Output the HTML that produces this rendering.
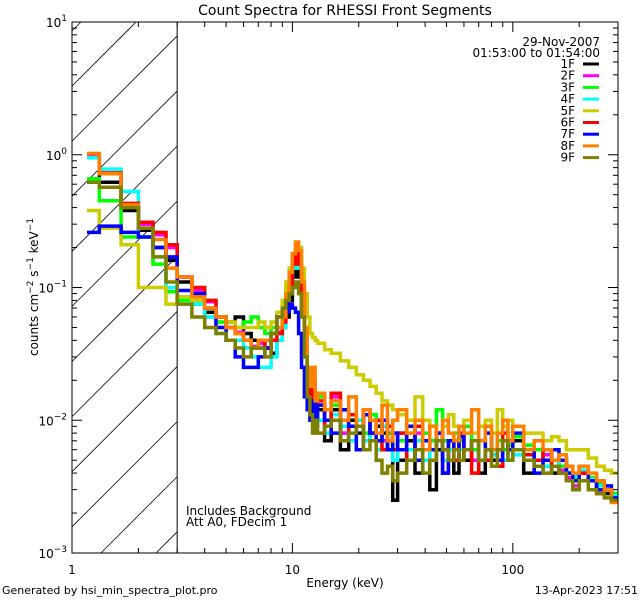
<!DOCTYPE html>
<html><head><meta charset="utf-8"><style>
html,body{margin:0;padding:0;background:#fff;width:640px;height:600px;overflow:hidden;}
svg{display:block;font-family:"DejaVu Sans","Liberation Sans",sans-serif;overflow:hidden;}
</style></head><body>
<svg id="chart" width="640" height="600" viewBox="0 0 640 600" xmlns="http://www.w3.org/2000/svg">
<defs><clipPath id="plotclip"><rect x="72" y="22" width="546" height="531"/></clipPath></defs>
<rect width="640" height="600" fill="#fff"/>
<text x="345" y="15" font-size="14" text-anchor="middle">Count Spectra for RHESSI Front Segments</text>
<g id="hatch"></g>
<g id="series" clip-path="url(#plotclip)"></g>
<g id="axes"></g>
<text transform="translate(38,287) rotate(-90)" font-size="12" text-anchor="middle">counts cm<tspan dy="-5" font-size="9">−2</tspan><tspan dy="5"> s</tspan><tspan dy="-5" font-size="9">−1</tspan><tspan dy="5"> keV</tspan><tspan dy="-5" font-size="9">−1</tspan></text>
<text x="345" y="587" font-size="12" text-anchor="middle">Energy (keV)</text>
<text x="600" y="46" font-size="12" text-anchor="end">29-Nov-2007</text>
<text x="600" y="57" font-size="12" text-anchor="end">01:53:00 to 01:54:00</text>
<text x="186" y="515" font-size="12">Includes Background</text>
<text x="186" y="526" font-size="12">Att A0, FDecim 1</text>
<text x="2" y="594" font-size="11">Generated by hsi_min_spectra_plot.pro</text>
<text x="638" y="594" font-size="11" text-anchor="end">13-Apr-2023 17:51</text>
<g id="legend"></g>
</svg>
<script>
const edges=[1.17,1.33,1.67,2,2.33,2.67,3,3.5,4,4.5,5,5.5,6,6.5,7,7.5,8,8.5,9,9.33,9.67,10,10.33,10.67,11,11.33,11.67,12,12.33,12.67,13,14,15,16.5,18,19.5,21,22.5,24,25.5,27,28.5,30,33,36,39,42,45,48,51,54,57,60,65,70,75,80,85,90,95,100,112,125,137,150,162,175,187,200,220,240,260,280,300];
const seriesNames=["1F","2F","3F","4F","5F","6F","7F","8F","9F"];
const s1F=[0.95,0.62,0.38,0.27,0.20,0.16,0.11,0.075,0.065,0.06,0.055,0.06,0.045,0.04,0.035,0.035,0.032,0.04,0.05,0.06,0.08,0.12,0.16,0.12,0.07,0.03,0.018,0.012,0.015,0.010,0.012,0.007,0.012,0.006,0.010,0.008,0.011,0.007,0.009,0.008,0.006,0.0025,0.005,0.007,0.004,0.006,0.003,0.006,0.005,0.007,0.004,0.006,0.005,0.007,0.004,0.006,0.005,0.0045,0.006,0.005,0.007,0.004,0.006,0.005,0.004,0.005,0.004,0.0035,0.004,0.0035,0.003,0.0028,0.0025];
const s2F=[1.0,0.72,0.42,0.30,0.25,0.20,0.12,0.095,0.078,0.06,0.05,0.046,0.04,0.036,0.038,0.035,0.04,0.046,0.055,0.07,0.10,0.15,0.18,0.15,0.09,0.035,0.02,0.013,0.018,0.012,0.013,0.009,0.015,0.008,0.011,0.009,0.011,0.008,0.010,0.007,0.008,0.006,0.008,0.006,0.008,0.007,0.006,0.008,0.005,0.007,0.005,0.007,0.006,0.005,0.007,0.005,0.006,0.005,0.007,0.006,0.006,0.0055,0.005,0.0055,0.0045,0.0042,0.0037,0.0032,0.004,0.0035,0.003,0.003,0.0026];
const s3F=[0.66,0.45,0.24,0.24,0.15,0.093,0.08,0.075,0.06,0.055,0.05,0.05,0.055,0.06,0.05,0.045,0.05,0.06,0.07,0.08,0.10,0.14,0.17,0.14,0.08,0.035,0.02,0.016,0.012,0.014,0.015,0.010,0.013,0.012,0.009,0.010,0.008,0.011,0.007,0.009,0.008,0.006,0.007,0.009,0.006,0.008,0.007,0.012,0.007,0.006,0.008,0.007,0.009,0.006,0.007,0.008,0.006,0.007,0.006,0.0065,0.0075,0.0065,0.006,0.005,0.005,0.0045,0.004,0.0037,0.0045,0.0037,0.0033,0.003,0.0028];
const s4F=[0.95,0.78,0.53,0.24,0.17,0.10,0.085,0.075,0.06,0.045,0.04,0.04,0.035,0.03,0.025,0.025,0.03,0.04,0.05,0.065,0.09,0.14,0.18,0.14,0.08,0.04,0.02,0.011,0.014,0.009,0.010,0.008,0.011,0.009,0.007,0.010,0.007,0.008,0.006,0.009,0.007,0.005,0.008,0.006,0.007,0.005,0.006,0.007,0.005,0.006,0.007,0.006,0.006,0.007,0.005,0.006,0.0055,0.006,0.005,0.006,0.0055,0.006,0.005,0.0045,0.005,0.004,0.0045,0.0038,0.0042,0.0036,0.0032,0.003,0.0027];
const s5F=[0.38,0.28,0.21,0.10,0.10,0.075,0.085,0.08,0.07,0.06,0.055,0.05,0.05,0.05,0.055,0.05,0.055,0.065,0.08,0.11,0.14,0.18,0.21,0.20,0.14,0.09,0.06,0.045,0.042,0.04,0.038,0.034,0.032,0.028,0.025,0.022,0.020,0.018,0.016,0.014,0.013,0.012,0.011,0.010,0.015,0.010,0.009,0.008,0.009,0.011,0.009,0.008,0.010,0.008,0.009,0.010,0.008,0.012,0.009,0.010,0.009,0.008,0.008,0.007,0.0075,0.007,0.006,0.006,0.006,0.0052,0.0045,0.0042,0.004];
const s6F=[1.02,0.73,0.43,0.31,0.26,0.21,0.12,0.10,0.08,0.06,0.05,0.045,0.04,0.035,0.04,0.035,0.04,0.045,0.055,0.07,0.10,0.15,0.18,0.15,0.09,0.035,0.02,0.013,0.02,0.012,0.014,0.009,0.016,0.007,0.011,0.009,0.012,0.008,0.010,0.006,0.009,0.006,0.008,0.005,0.009,0.007,0.006,0.008,0.004,0.007,0.005,0.008,0.006,0.004,0.007,0.005,0.006,0.0045,0.008,0.006,0.006,0.0055,0.005,0.006,0.0045,0.004,0.0035,0.003,0.004,0.0035,0.0028,0.003,0.0025];
const s7F=[0.26,0.29,0.26,0.24,0.20,0.17,0.095,0.09,0.07,0.05,0.04,0.03,0.025,0.025,0.03,0.035,0.045,0.06,0.065,0.065,0.075,0.07,0.065,0.045,0.025,0.015,0.012,0.010,0.014,0.009,0.013,0.010,0.008,0.012,0.009,0.006,0.011,0.008,0.007,0.010,0.006,0.008,0.006,0.009,0.005,0.007,0.006,0.008,0.004,0.007,0.006,0.0075,0.006,0.007,0.005,0.008,0.006,0.005,0.007,0.006,0.008,0.006,0.004,0.005,0.006,0.005,0.004,0.0035,0.0045,0.0035,0.003,0.0032,0.0026];
const s8F=[1.02,0.72,0.42,0.28,0.23,0.14,0.12,0.085,0.07,0.06,0.05,0.045,0.04,0.035,0.04,0.04,0.045,0.05,0.06,0.09,0.13,0.18,0.22,0.19,0.11,0.05,0.025,0.018,0.025,0.014,0.016,0.012,0.014,0.010,0.015,0.009,0.012,0.010,0.008,0.013,0.007,0.010,0.012,0.008,0.010,0.006,0.009,0.007,0.010,0.008,0.007,0.009,0.008,0.012,0.007,0.009,0.006,0.008,0.010,0.007,0.009,0.006,0.007,0.006,0.005,0.0055,0.0045,0.004,0.0045,0.004,0.0035,0.003,0.0024];
const s9F=[0.62,0.57,0.40,0.28,0.17,0.11,0.075,0.06,0.05,0.045,0.04,0.035,0.03,0.035,0.035,0.03,0.045,0.06,0.07,0.08,0.09,0.10,0.11,0.09,0.06,0.03,0.015,0.011,0.008,0.010,0.008,0.009,0.010,0.007,0.008,0.009,0.006,0.007,0.005,0.004,0.0045,0.0035,0.004,0.005,0.006,0.004,0.005,0.007,0.006,0.005,0.006,0.005,0.006,0.007,0.005,0.006,0.0045,0.006,0.007,0.005,0.006,0.005,0.0045,0.004,0.0045,0.004,0.0035,0.003,0.0035,0.003,0.0028,0.0026,0.0025];
const xTickLabels=["1","10","100"];
const yTickExps=[1,0,-1,-2,-3];

const NS="http://www.w3.org/2000/svg";
const X0=72,X1=618,Y0=22,Y1=553;
const xmin=0,xmax=Math.log10(300),ymin=-3,ymax=1;
function xs(e){return X0+(Math.log10(e)-xmin)/(xmax-xmin)*(X1-X0);}
function ys(v){return Y1-(Math.log10(v)-ymin)/(ymax-ymin)*(Y1-Y0);}
function mk(tag,attrs,parent){const el=document.createElementNS(NS,tag);for(const k in attrs)el.setAttribute(k,attrs[k]);parent.appendChild(el);return el;}

const hatch=document.getElementById('hatch');
const hx1=xs(3);
for(let c=86-55.1;c<Y1+(hx1-X0);c+=55.1){
  // line: y = c - (x - X0), clipped to [X0,hx1] x [Y0,Y1]
  const xa=Math.max(X0, X0+c-Y1), xb=Math.min(hx1, X0+c-Y0);
  if(xb<=xa)continue;
  const l=mk('line',{x1:xa,y1:c-(xa-X0),x2:xb,y2:c-(xb-X0),stroke:'#000','stroke-width':0.8},hatch);
  
  
}
const hb=mk('line',{x1:hx1,y1:Y0,x2:hx1,y2:Y1,stroke:'#000','stroke-width':1},hatch);



const colors=["#000000","#ff00ff","#00ff00","#00ffff","#cccc00","#ff0000","#0000ff","#ff8000","#808000"];
const allSeries=[s1F,s2F,s3F,s4F,s5F,s6F,s7F,s8F,s9F];
const sg=document.getElementById('series');
allSeries.forEach((vals,si)=>{
  let d="";
  vals.forEach((v,i)=>{
    const xa=xs(edges[i]).toFixed(1),xb=xs(edges[i+1]).toFixed(1),y=ys(v).toFixed(1);
    d+=(i===0?"M":"L")+xa+","+y+"L"+xb+","+y;
  });
  const p=mk('path',{d:d,fill:'none',stroke:colors[si],'stroke-width':3.5,'stroke-linejoin':'miter'},sg);
  
  
});

const ax=document.getElementById('axes');
const frame=mk('rect',{x:X0,y:Y0,width:X1-X0,height:Y1-Y0,fill:'none',stroke:'#000','stroke-width':1},ax);


for(let dec=1;dec<=100;dec*=10){
  for(let m=1;m<=9;m++){
    const e=dec*m; if(e>300)break;
    const x=xs(e),len=(m===1)?10:5;
    const t1=mk('line',{x1:x,y1:Y1,x2:x,y2:Y1-len,stroke:'#000'},ax);
    
    
    const t2=mk('line',{x1:x,y1:Y0,x2:x,y2:Y0+len,stroke:'#000'},ax);
    
    
  }
}
xTickLabels.forEach(s=>{
  const t=mk('text',{x:xs(parseFloat(s)),y:Y1+21,'font-size':12,'text-anchor':'middle'},ax);
  t.textContent=s;
  
  
});
for(let p=-3;p<1;p++){
  for(let m=1;m<=9;m++){
    const y=ys(m*Math.pow(10,p)),len=(m===1)?10:5;
    const t1=mk('line',{x1:X0,y1:y,x2:X0+len,y2:y,stroke:'#000'},ax);
    
    
    const t2=mk('line',{x1:X1,y1:y,x2:X1-len,y2:y,stroke:'#000'},ax);
    
    
  }
}
yTickExps.forEach(p=>{
  const t=mk('text',{x:X0-5,y:ys(Math.pow(10,p))+5,'font-size':12,'text-anchor':'end'},ax);
  t.innerHTML='10<tspan dy="-6" font-size="9">'+(p<0?'−'+(-p):p)+'</tspan>';
  
  
});

const lg=document.getElementById('legend');
seriesNames.forEach((n,i)=>{
  const y=64+i*11.7;
  const t=mk('text',{x:575,y:y+4,'font-size':12,'text-anchor':'end'},lg);
  t.textContent=n;
  
  
  const l=mk('line',{x1:583,y1:y,x2:599,y2:y,stroke:colors[i],'stroke-width':3},lg);
  
  
});
</script>
</body></html>
